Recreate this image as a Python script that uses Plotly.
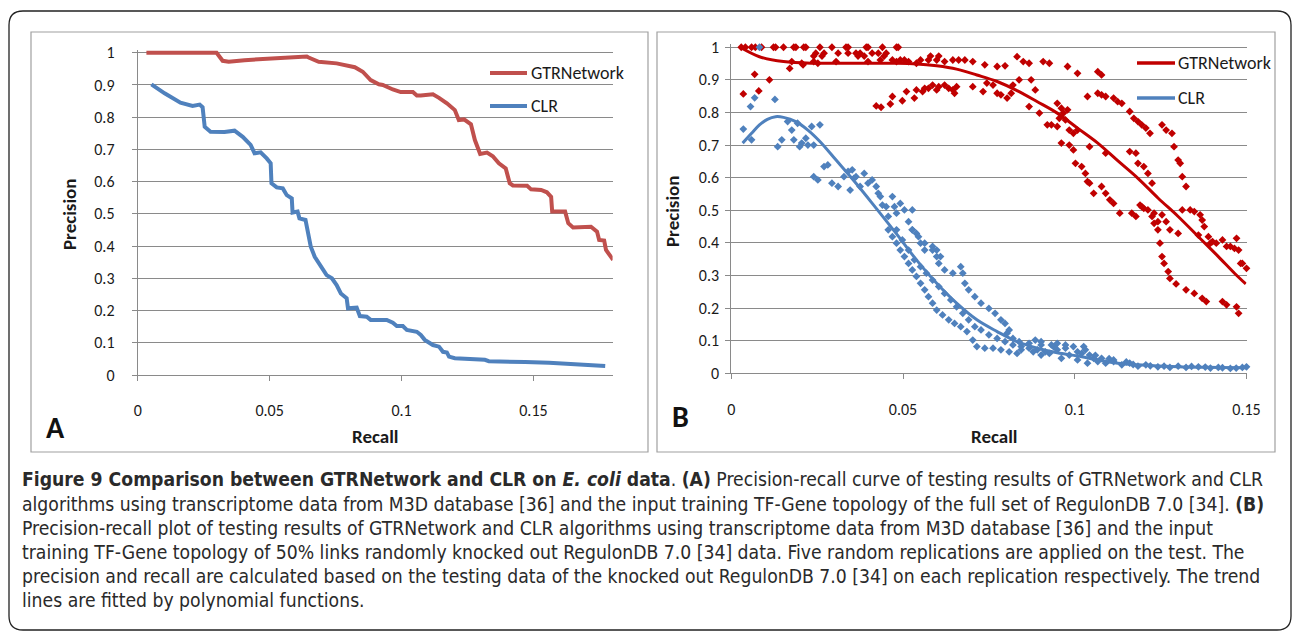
import plotly.graph_objects as go

# ---------------- Panel A data ----------------
a_gtr_recall = [0.0033, 0.0299, 0.0322, 0.0345, 0.0405, 0.0496, 0.0587, 0.0641, 0.0648, 0.0686, 0.0754,
                0.0823, 0.0853, 0.0883, 0.0914, 0.0929, 0.0967, 0.0997, 0.1043, 0.1058, 0.1073, 0.1119,
                0.1142, 0.1172, 0.1202, 0.1217, 0.1237, 0.1263, 0.1278, 0.1298, 0.1324, 0.1346, 0.1369,
                0.1395, 0.1410, 0.1422, 0.1476, 0.1491, 0.1529, 0.1551, 0.1567, 0.1571, 0.1620, 0.1632,
                0.1650, 0.1718, 0.1741, 0.1749, 0.1768, 0.1775, 0.1802]
a_gtr_precision = [1.0, 1.0, 0.975, 0.972, 0.977, 0.982, 0.985, 0.988, 0.985, 0.972, 0.967,
                   0.955, 0.941, 0.915, 0.902, 0.900, 0.886, 0.878, 0.878, 0.867, 0.867, 0.871,
                   0.860, 0.843, 0.822, 0.791, 0.793, 0.778, 0.729, 0.686, 0.690, 0.679, 0.657,
                   0.641, 0.595, 0.588, 0.587, 0.576, 0.574, 0.567, 0.553, 0.507, 0.507, 0.471,
                   0.458, 0.460, 0.445, 0.419, 0.417, 0.388, 0.357]

a_clr_recall = [0.0052, 0.0102, 0.0162, 0.0208, 0.0235, 0.0246, 0.0254, 0.0276, 0.0329, 0.0367, 0.0398,
                0.0428, 0.0443, 0.0466, 0.0489, 0.0504, 0.0507, 0.0527, 0.0550, 0.0565, 0.0584, 0.0587,
                0.0606, 0.0613, 0.0636, 0.0645, 0.0656, 0.0671, 0.0686, 0.0697, 0.0716, 0.0736, 0.0754,
                0.0770, 0.0792, 0.0797, 0.0830, 0.0842, 0.0868, 0.0883, 0.0944, 0.0967, 0.0982, 0.1005,
                0.1020, 0.1058, 0.1073, 0.1088, 0.1119, 0.1142, 0.1157, 0.1172, 0.1180, 0.1202, 0.1271,
                0.1316, 0.1331, 0.1422, 0.1468, 0.1559, 0.1650, 0.1711, 0.1772]
a_clr_precision = [0.902, 0.874, 0.845, 0.835, 0.839, 0.831, 0.770, 0.755, 0.754, 0.758, 0.739,
                   0.714, 0.688, 0.691, 0.672, 0.657, 0.595, 0.582, 0.579, 0.558, 0.548, 0.504,
                   0.507, 0.486, 0.481, 0.439, 0.398, 0.367, 0.346, 0.331, 0.310, 0.300, 0.279,
                   0.253, 0.238, 0.207, 0.209, 0.183, 0.181, 0.171, 0.171, 0.162, 0.152, 0.152,
                   0.140, 0.134, 0.124, 0.109, 0.093, 0.088, 0.072, 0.070, 0.057, 0.052, 0.049,
                   0.047, 0.043, 0.043, 0.040, 0.038, 0.033, 0.031, 0.028]

# ---------------- Panel B data ----------------
b_gtr_recall = [
    0.0029, 0.0041, 0.0059, 0.0070, 0.0088, 0.0123, 0.0129, 0.0152, 0.0182, 0.0188, 0.0211, 0.0217, 0.0258,
    0.0293, 0.0334, 0.0340, 0.0393, 0.0398, 0.0440, 0.0481, 0.0486,
    0.0246, 0.0270, 0.0311, 0.0340, 0.0363, 0.0375, 0.0410, 0.0428, 0.0451,
    0.0240, 0.0264, 0.0369, 0.0387, 0.0445, 0.0580, 0.0604,
    0.0176, 0.0205, 0.0240, 0.0252, 0.0305, 0.0398, 0.0434, 0.0469, 0.0481, 0.0492, 0.0504, 0.0516, 0.0539,
    0.0551, 0.0574, 0.0598, 0.0621, 0.0645, 0.0662, 0.0680, 0.0703, 0.0170, 0.0209,
    0.0035, 0.0068, 0.0080, 0.0111,
    0.0422, 0.0436, 0.0463, 0.0469, 0.0498, 0.0510, 0.0533, 0.0539, 0.0557, 0.0563, 0.0574, 0.0586, 0.0598,
    0.0604, 0.0621, 0.0633, 0.0645, 0.0650, 0.0656, 0.0703, 0.0733, 0.0744, 0.0762, 0.0774, 0.0785, 0.0803,
    0.0815, 0.0820,
    0.0738, 0.0774, 0.0797, 0.0832, 0.0850, 0.0867, 0.0908, 0.0926, 0.0979, 0.1008, 0.1067, 0.1078,
    0.0838, 0.0873, 0.0885, 0.0867, 0.0897, 0.0920, 0.0932, 0.0949, 0.0961, 0.0967, 0.0979, 0.0955, 0.0973,
    0.0984, 0.0996, 0.0961, 0.0984, 0.0996, 0.1002, 0.1020, 0.1031, 0.1037, 0.1043, 0.1055, 0.1078, 0.1090,
    0.1102, 0.1113, 0.1131, 0.1166, 0.1178, 0.1190, 0.1201, 0.1213, 0.1225, 0.1231, 0.1242, 0.1248, 0.1254,
    0.1260, 0.1272, 0.1277, 0.1295, 0.1324, 0.1348, 0.1371, 0.1383, 0.1430, 0.1442, 0.1471, 0.1477,
    0.1037, 0.1067, 0.1078, 0.1090, 0.1113, 0.1125, 0.1137, 0.1160, 0.1172, 0.1184, 0.1195, 0.1207, 0.1219,
    0.1254, 0.1266, 0.1283, 0.1289, 0.1301, 0.1307, 0.1313, 0.1324, 0.1336, 0.1348, 0.1365, 0.1371, 0.1377,
    0.1389, 0.1401, 0.1412, 0.1430, 0.1442, 0.1453, 0.1465, 0.1471, 0.1477, 0.1488, 0.1500, 0.1483,
    0.1160, 0.1178, 0.1184, 0.1201, 0.1213, 0.1225, 0.1195, 0.1231, 0.1242, 0.1254, 0.1266, 0.1277, 0.1301,
    0.1313, 0.1360, 0.1395,
    0.0949, 0.1008, 0.1043, 0.1090]
b_gtr_precision = [
    1.0, 1.0, 1.0, 1.0, 1.0, 1.0, 1.0, 1.0, 1.0, 1.0, 1.0, 1.0, 1.0,
    1.0, 1.0, 1.0, 1.0, 1.0, 1.0, 1.0, 1.0,
    0.982, 0.982, 0.982, 0.982, 0.982, 0.982, 0.982, 0.982, 0.982,
    0.973, 0.973, 0.973, 0.973, 0.973, 0.973, 0.973,
    0.956, 0.951, 0.956, 0.951, 0.956, 0.956, 0.961, 0.961, 0.956, 0.961, 0.961, 0.956, 0.951,
    0.961, 0.961, 0.961, 0.956, 0.961, 0.961, 0.961, 0.956, 0.935, 0.946,
    0.857, 0.917, 0.866, 0.900,
    0.820, 0.816, 0.826, 0.849, 0.836, 0.864, 0.844, 0.869, 0.864, 0.874, 0.874, 0.884, 0.869,
    0.879, 0.884, 0.874, 0.869, 0.859, 0.879, 0.879, 0.864, 0.890, 0.884, 0.859, 0.854, 0.844,
    0.859, 0.884,
    0.946, 0.941, 0.943, 0.971, 0.956, 0.951, 0.956, 0.951, 0.941, 0.920, 0.925, 0.915,
    0.900, 0.900, 0.869, 0.818, 0.798, 0.762, 0.762, 0.828, 0.813, 0.798, 0.808, 0.782, 0.777,
    0.746, 0.736, 0.706, 0.700, 0.685, 0.644, 0.634, 0.613, 0.588, 0.583, 0.552, 0.573, 0.552,
    0.532, 0.521, 0.491, 0.491, 0.481, 0.516, 0.506, 0.501, 0.481, 0.460, 0.440, 0.399, 0.358,
    0.337, 0.312, 0.291, 0.274, 0.256, 0.245, 0.230, 0.220, 0.220, 0.210, 0.204, 0.184,
    0.849, 0.859, 0.854, 0.849, 0.844, 0.833, 0.828, 0.803, 0.782, 0.772, 0.762, 0.752, 0.736,
    0.762, 0.746, 0.736, 0.695, 0.654, 0.644, 0.603, 0.573, 0.501, 0.496, 0.486, 0.470, 0.450,
    0.419, 0.404, 0.399, 0.409, 0.389, 0.389, 0.383, 0.414, 0.378, 0.337, 0.322, 0.337,
    0.680, 0.675, 0.644, 0.634, 0.613, 0.583, 0.511, 0.491, 0.465, 0.486, 0.465, 0.440, 0.429,
    0.501, 0.424, 0.399,
    0.757, 0.746, 0.695, 0.675]

b_clr_recall = [
    0.0035, 0.0056, 0.0068, 0.0082, 0.0127, 0.0059, 0.0135, 0.0147, 0.0164, 0.0176, 0.0182, 0.0193, 0.0205,
    0.0217, 0.0223, 0.0234, 0.0258, 0.0240, 0.0199,
    0.0240, 0.0252, 0.0270, 0.0281, 0.0293, 0.0311, 0.0328, 0.0340, 0.0352, 0.0357, 0.0346, 0.0363, 0.0375,
    0.0387, 0.0398, 0.0410, 0.0422, 0.0428, 0.0434, 0.0440, 0.0451, 0.0457, 0.0469, 0.0475, 0.0481, 0.0492,
    0.0504, 0.0516, 0.0527, 0.0527, 0.0539, 0.0551, 0.0563, 0.0586, 0.0598, 0.0609,
    0.0457, 0.0469, 0.0481, 0.0492, 0.0504, 0.0516, 0.0527, 0.0539, 0.0551, 0.0563, 0.0574, 0.0586, 0.0598,
    0.0615, 0.0633, 0.0650, 0.0668, 0.0686, 0.0703, 0.0715, 0.0738, 0.0762, 0.0785, 0.0809, 0.0832,
    0.0481, 0.0498, 0.0516, 0.0533, 0.0551, 0.0568, 0.0586, 0.0604, 0.0621, 0.0639, 0.0656, 0.0674, 0.0691,
    0.0709, 0.0727, 0.0750, 0.0774, 0.0797, 0.0820, 0.0844, 0.0867, 0.0891, 0.0914,
    0.0527, 0.0545, 0.0563, 0.0586, 0.0598, 0.0604, 0.0621, 0.0645, 0.0668, 0.0674, 0.0680, 0.0691, 0.0709,
    0.0727, 0.0750, 0.0768, 0.0785, 0.0797, 0.0809, 0.0803, 0.0820, 0.0838, 0.0867, 0.0902, 0.0938, 0.0973,
    0.1008, 0.1043, 0.1078, 0.1113,
    0.0844, 0.0879, 0.0902, 0.0926, 0.0949, 0.0961, 0.0984, 0.1008, 0.1020, 0.1037, 0.1055, 0.1067, 0.1090,
    0.1113, 0.1137, 0.1160, 0.1184, 0.1207, 0.1242, 0.1277, 0.1301, 0.1324, 0.1360, 0.1395, 0.1418, 0.1453,
    0.1488, 0.1500, 0.1026, 0.1031, 0.0996, 0.0973, 0.0949, 0.0932, 0.0902, 0.0885,
    0.1060, 0.1100, 0.1150, 0.1170, 0.1220, 0.1260, 0.1340, 0.1380, 0.1430, 0.1470]
b_clr_precision = [
    0.749, 0.818, 0.845, 1.000, 0.840, 0.716, 0.695, 0.716, 0.772, 0.746, 0.716, 0.767, 0.706,
    0.721, 0.700, 0.757, 0.762, 0.700, 0.695,
    0.603, 0.593, 0.634, 0.639, 0.583, 0.573, 0.603, 0.619, 0.624, 0.598, 0.562, 0.603, 0.573,
    0.613, 0.583, 0.593, 0.573, 0.552, 0.542, 0.516, 0.511, 0.481, 0.542, 0.511, 0.491, 0.521,
    0.501, 0.465, 0.501, 0.440, 0.429, 0.399, 0.378, 0.389, 0.378, 0.358,
    0.440, 0.419, 0.399, 0.378, 0.358, 0.337, 0.317, 0.297, 0.276, 0.256, 0.235, 0.215, 0.194,
    0.179, 0.164, 0.153, 0.143, 0.128, 0.102, 0.082, 0.077, 0.077, 0.072, 0.066, 0.061,
    0.440, 0.409, 0.378, 0.348, 0.327, 0.307, 0.286, 0.266, 0.245, 0.225, 0.204, 0.184, 0.164,
    0.143, 0.133, 0.118, 0.107, 0.097, 0.087, 0.082, 0.077, 0.072, 0.066,
    0.440, 0.419, 0.399, 0.378, 0.358, 0.337, 0.317, 0.307, 0.327, 0.307, 0.276, 0.256, 0.235,
    0.215, 0.199, 0.184, 0.164, 0.153, 0.133, 0.123, 0.107, 0.097, 0.092, 0.087, 0.082, 0.077,
    0.066, 0.056, 0.046, 0.036,
    0.072, 0.066, 0.056, 0.061, 0.072, 0.046, 0.056, 0.041, 0.061, 0.031, 0.046, 0.036, 0.031,
    0.041, 0.026, 0.031, 0.022, 0.026, 0.020, 0.018, 0.022, 0.018, 0.020, 0.016, 0.018, 0.015,
    0.018, 0.020, 0.082, 0.072, 0.082, 0.087, 0.092, 0.087, 0.097, 0.102,
    0.055, 0.045, 0.035, 0.027, 0.023, 0.022, 0.021, 0.019, 0.017, 0.016]

# polynomial trend lines
b_gtr_trend_recall = [0.0026, 0.0082, 0.0152, 0.0246, 0.0363, 0.0480, 0.0539, 0.0598, 0.0656, 0.0715, 0.0774,
                      0.0832, 0.0891, 0.0949, 0.1008, 0.1067, 0.1125, 0.1184, 0.1243, 0.1301, 0.1360, 0.1418,
                      0.1465, 0.1498]
b_gtr_trend_precision = [1.0, 0.971, 0.956, 0.951, 0.951, 0.951, 0.949, 0.943, 0.933, 0.915, 0.895,
                         0.867, 0.833, 0.798, 0.752, 0.706, 0.652, 0.598, 0.537, 0.481, 0.419, 0.358,
                         0.307, 0.274]
b_clr_trend_recall = [0.0033, 0.0059, 0.0082, 0.0105, 0.0129, 0.0152, 0.0188, 0.0223, 0.0258, 0.0305, 0.0363,
                      0.0422, 0.0480, 0.0539, 0.0598, 0.0656, 0.0715, 0.0774, 0.0832, 0.0891, 0.0949, 0.1008,
                      0.1067, 0.1125, 0.1184, 0.1301, 0.1418, 0.1500]
b_clr_trend_precision = [0.706, 0.736, 0.762, 0.779, 0.787, 0.785, 0.772, 0.746, 0.711, 0.654, 0.583,
                         0.506, 0.429, 0.348, 0.276, 0.215, 0.164, 0.128, 0.097, 0.077, 0.063, 0.053,
                         0.041, 0.031, 0.026, 0.020, 0.018, 0.017]

y_ticks = [0, 0.1, 0.2, 0.3, 0.4, 0.5, 0.6, 0.7, 0.8, 0.9, 1]
y_tick_labels = ["0", "0.1", "0.2", "0.3", "0.4", "0.5", "0.6", "0.7", "0.8", "0.9", "1"]
x_ticks = [0, 0.05, 0.1, 0.15]
x_tick_labels = ["0", "0.05", "0.1", "0.15"]
series_names = ["GTRNetwork", "CLR"]

caption_lines = [
    "<b>Figure 9 Comparison between GTRNetwork and CLR on <i>E. coli</i> data</b>. <b>(A)</b> Precision-recall curve of testing results of GTRNetwork and CLR",
    "algorithms using transcriptome data from M3D database [36] and the input training TF-Gene topology of the full set of RegulonDB 7.0 [34]. <b>(B)</b>",
    "Precision-recall plot of testing results of GTRNetwork and CLR algorithms using transcriptome data from M3D database [36] and the input",
    "training TF-Gene topology of 50% links randomly knocked out RegulonDB 7.0 [34] data. Five random replications are applied on the test. The",
    "precision and recall are calculated based on the testing data of the knocked out RegulonDB 7.0 [34] on each replication respectively. The trend",
    "lines are fitted by polynomial functions.",
]

# ---------------- styling ----------------
W, H = 1293, 633
def px(x):
    return x / W
def py(y):
    return 1 - y / H

RED_A = "#C0504D"
RED_B = "#C00000"
BLUE = "#4F81BD"
GRID = "#8A8A8A"
TICKFONT = dict(family="Carlito, Lato, Arial", size=16, color="#1a1a1a")

fig = go.Figure()

fig.add_trace(go.Scatter(x=a_gtr_recall, y=a_gtr_precision, mode="lines", name=series_names[0],
                         line=dict(color=RED_A, width=4), xaxis="x", yaxis="y", showlegend=False))
fig.add_trace(go.Scatter(x=a_clr_recall, y=a_clr_precision, mode="lines", name=series_names[1],
                         line=dict(color=BLUE, width=4), xaxis="x", yaxis="y", showlegend=False))

fig.add_trace(go.Scatter(x=b_gtr_recall, y=b_gtr_precision, mode="markers", name=series_names[0],
                         marker=dict(symbol="diamond", size=6, color=RED_B), cliponaxis=False,
                         xaxis="x2", yaxis="y2", showlegend=False))
fig.add_trace(go.Scatter(x=b_clr_recall, y=b_clr_precision, mode="markers", name=series_names[1],
                         marker=dict(symbol="diamond", size=6, color=BLUE), cliponaxis=False,
                         xaxis="x2", yaxis="y2", showlegend=False))
fig.add_trace(go.Scatter(x=b_gtr_trend_recall, y=b_gtr_trend_precision, mode="lines", line_shape="spline",
                         line=dict(color=RED_B, width=3), xaxis="x2", yaxis="y2", showlegend=False))
fig.add_trace(go.Scatter(x=b_clr_trend_recall, y=b_clr_trend_precision, mode="lines", line_shape="spline",
                         line=dict(color=BLUE, width=3), xaxis="x2", yaxis="y2", showlegend=False))

common_x = dict(showgrid=False, zeroline=False, showline=True, linecolor=GRID, linewidth=1, automargin=False,
                ticks="outside", ticklen=5, tickcolor=GRID, tickvals=x_ticks, ticktext=x_tick_labels,
                tickfont=TICKFONT, ticklabelstandoff=16)
common_y = dict(showgrid=True, gridcolor=GRID, gridwidth=1, zeroline=False, showline=True, linecolor=GRID,
                linewidth=1, automargin=False, ticks="outside", ticklen=5, tickcolor=GRID, tickvals=y_ticks,
                ticktext=y_tick_labels, tickfont=TICKFONT, range=[0, 1.01])

fig.update_layout(
    width=W, height=H, margin=dict(l=0, r=0, t=0, b=0, pad=0), autosize=False,
    paper_bgcolor="white", plot_bgcolor="white", hovermode=False,
    xaxis=dict(domain=[px(137.7), px(612.6)], range=[0, 0.18], anchor="y", **common_x),
    yaxis=dict(domain=[py(375), py(49.5)], anchor="x", ticklabelstandoff=14, **common_y),
    xaxis2=dict(domain=[px(731.3), px(1246.5)], range=[0, 0.15], anchor="y2", **common_x),
    yaxis2=dict(domain=[py(373.3), py(44.0)], anchor="x2", ticklabelstandoff=3, **common_y),
)

shapes = []
# outer rounded frame
x0, y0, x1, y1, r = 9, 11, 1291, 630, 14
path = (f"M {px(x0+r)},{py(y0)} L {px(x1-r)},{py(y0)} Q {px(x1)},{py(y0)} {px(x1)},{py(y0+r)} "
        f"L {px(x1)},{py(y1-r)} Q {px(x1)},{py(y1)} {px(x1-r)},{py(y1)} "
        f"L {px(x0+r)},{py(y1)} Q {px(x0)},{py(y1)} {px(x0)},{py(y1-r)} "
        f"L {px(x0)},{py(y0+r)} Q {px(x0)},{py(y0)} {px(x0+r)},{py(y0)} Z")
shapes.append(dict(type="path", xref="paper", yref="paper", path=path, line=dict(color="#222", width=1.3)))
# panel boxes
shapes.append(dict(type="rect", xref="paper", yref="paper", x0=px(31), x1=px(648), y0=py(452), y1=py(32),
                   line=dict(color="#a0a0a0", width=1.2)))
shapes.append(dict(type="rect", xref="paper", yref="paper", x0=px(657), x1=px(1275), y0=py(452), y1=py(32),
                   line=dict(color="#a0a0a0", width=1.2)))
# legend samples
for (lx0, lx1, ly, col, w) in [(490, 527, 73, RED_A, 4), (490, 527, 106, BLUE, 4),
                               (1137, 1175, 63, RED_B, 3.5), (1137, 1175, 98, BLUE, 3.5)]:
    shapes.append(dict(type="line", xref="paper", yref="paper", x0=px(lx0), x1=px(lx1), y0=py(ly), y1=py(ly),
                       line=dict(color=col, width=w)))
fig.update_layout(shapes=shapes)

ann = []
LEGFONT = dict(family="Carlito, Lato, Arial", size=18, color="#1a1a1a")
for (tx, ty, txt) in [(529, 73, series_names[0]), (529, 106, series_names[1]),
                      (1176, 63, series_names[0]), (1176, 98, series_names[1])]:
    ann.append(dict(x=px(tx), y=py(ty), xref="paper", yref="paper", text=txt, showarrow=False,
                    xanchor="left", yanchor="middle", font=LEGFONT))
TITLEFONT = dict(family="Carlito, Lato, Arial", size=19, color="#1a1a1a")
for (tx, ty) in [(375, 436), (994, 436)]:
    ann.append(dict(x=px(tx), y=py(ty), xref="paper", yref="paper", text="<b>Recall</b>", showarrow=False,
                    xanchor="center", yanchor="middle", font=TITLEFONT))
for (tx, ty) in [(70, 214), (673, 211)]:
    ann.append(dict(x=px(tx), y=py(ty), xref="paper", yref="paper", text="<b>Precision</b>", showarrow=False,
                    xanchor="center", yanchor="middle", textangle=-90, font=TITLEFONT))
PANELFONT = dict(family="Carlito, Lato, Arial", size=30, color="#111")
for (tx, ty, t) in [(55, 427, "A"), (680, 416, "B")]:
    ann.append(dict(x=px(tx), y=py(ty), xref="paper", yref="paper", text=f"<b>{t}</b>", showarrow=False,
                    xanchor="center", yanchor="middle", font=PANELFONT))
CAPFONT = dict(family="Liberation Sans Narrow, DejaVu Sans Condensed, Arial", size=19.2, color="#2a2a2a")
for i, line in enumerate(caption_lines):
    ann.append(dict(x=px(20), y=py(480 + 24.1 * i), xref="paper", yref="paper", text=line, showarrow=False,
                    xanchor="left", yanchor="middle", font=CAPFONT))
fig.update_layout(annotations=ann)

fig.write_html("out.html", config={"displayModeBar": False},
               post_script="document.body.style.margin='0';document.body.style.overflow='hidden';")
